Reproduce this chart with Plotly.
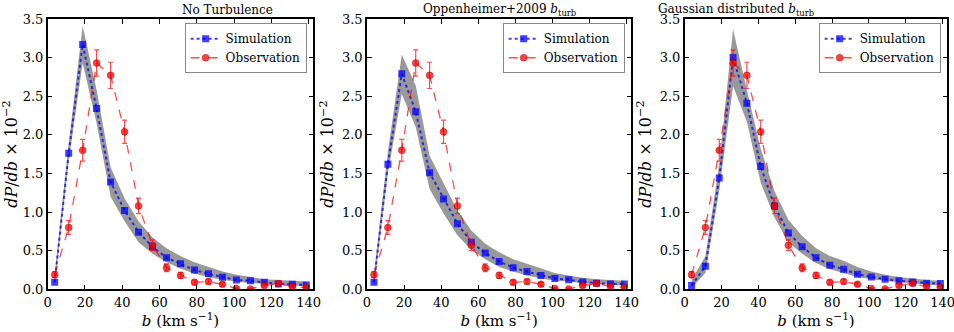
import plotly.graph_objects as go
from plotly.subplots import make_subplots

# b bin centres (km/s)
b = [3.75, 11.25, 18.75, 26.25, 33.75, 41.25, 48.75, 56.25, 63.75, 71.25,
     78.75, 86.25, 93.75, 101.25, 108.75, 116.25, 123.75, 131.25, 138.75]

# observation (same in all panels)
obs = [0.19, 0.80, 1.80, 2.93, 2.77, 2.04, 1.08, 0.57, 0.28, 0.18,
       0.09, 0.10, 0.065, 0.01, 0.005, 0.05, 0.075, 0.035, 0.025]
obs_err = [0.04, 0.09, 0.14, 0.17, 0.17, 0.15, 0.10, 0.07, 0.05, 0.04,
           0.03, 0.03, 0.025, 0.01, 0.01, 0.02, 0.025, 0.02, 0.015]

# simulation, no turbulence
sim_noturb = [0.09, 1.76, 3.17, 2.34, 1.39, 1.02, 0.74, 0.55, 0.41, 0.33,
              0.25, 0.20, 0.155, 0.12, 0.11, 0.09, 0.07, 0.065, 0.055]
lo_noturb = [0.04, 1.66, 2.93, 2.15, 1.20, 0.88, 0.61, 0.46, 0.35, 0.27,
             0.20, 0.16, 0.12, 0.10, 0.08, 0.07, 0.06, 0.05, 0.04]
hi_noturb = [0.20, 1.88, 3.41, 2.58, 1.58, 1.18, 0.88, 0.67, 0.53, 0.43,
             0.35, 0.29, 0.23, 0.19, 0.16, 0.13, 0.12, 0.11, 0.10]

# simulation, Oppenheimer+2009 b_turb
sim_opp = [0.09, 1.62, 2.79, 2.30, 1.51, 1.17, 0.85, 0.61, 0.47, 0.36,
           0.28, 0.23, 0.18, 0.14, 0.125, 0.095, 0.08, 0.07, 0.07]
lo_opp = [0.03, 1.50, 2.53, 2.10, 1.30, 0.98, 0.70, 0.51, 0.39, 0.29,
          0.23, 0.18, 0.14, 0.11, 0.10, 0.08, 0.07, 0.06, 0.05]
hi_opp = [0.20, 1.78, 3.04, 2.64, 1.73, 1.37, 1.02, 0.76, 0.59, 0.48,
          0.39, 0.33, 0.27, 0.21, 0.18, 0.15, 0.13, 0.12, 0.11]

# simulation, Gaussian distributed b_turb
sim_gauss = [0.05, 0.30, 1.44, 3.00, 2.41, 1.59, 1.08, 0.73, 0.55, 0.41,
             0.31, 0.26, 0.195, 0.16, 0.13, 0.11, 0.095, 0.08, 0.075]
lo_gauss = [0.02, 0.21, 1.28, 2.63, 2.17, 1.38, 0.93, 0.61, 0.46, 0.34,
            0.26, 0.21, 0.16, 0.13, 0.11, 0.09, 0.08, 0.06, 0.05]
hi_gauss = [0.12, 0.43, 1.62, 3.37, 2.58, 1.82, 1.27, 0.90, 0.69, 0.53,
            0.43, 0.37, 0.29, 0.23, 0.19, 0.16, 0.14, 0.12, 0.11]

titles = ["No Turbulence",
          "Oppenheimer+2009 <i>b</i><sub>turb</sub>",
          "Gaussian distributed <i>b</i><sub>turb</sub>"]
panels = [(sim_noturb, lo_noturb, hi_noturb),
          (sim_opp, lo_opp, hi_opp),
          (sim_gauss, lo_gauss, hi_gauss)]

FONT = "DejaVu Serif, serif"
fig = make_subplots(rows=1, cols=3)

x_domains = [[0.050, 0.3284], [0.3847, 0.6618], [0.7177, 0.993]]
y_domain = [0.1286, 0.9428]

for i, (sim, lo, hi) in enumerate(panels):
    col = i + 1
    leg = "legend" if i == 0 else f"legend{i + 1}"
    # grey band
    fig.add_trace(go.Scatter(x=b + b[::-1], y=hi + lo[::-1], fill="toself",
                             fillcolor="rgba(128,128,128,0.8)", line=dict(width=0),
                             showlegend=False, hoverinfo="skip"), row=1, col=col)
    fig.add_trace(go.Scatter(x=b, y=sim, mode="lines+markers", name="Simulation",
                             line=dict(color="rgba(0,0,255,0.75)", dash="dot", width=2),
                             marker=dict(symbol="square", size=7, color="rgba(0,0,255,0.75)"),
                             legend=leg), row=1, col=col)
    fig.add_trace(go.Scatter(x=b, y=obs, mode="lines+markers", name="Observation",
                             line=dict(color="rgba(255,0,0,0.7)", dash="dash", width=1.3),
                             marker=dict(symbol="circle", size=7, color="rgba(255,0,0,0.75)",
                                         line=dict(color="rgba(120,0,0,0.5)", width=0.6)),
                             error_y=dict(type="data", array=obs_err, color="rgba(255,0,0,0.7)",
                                          thickness=1.2, width=2.5),
                             legend=leg), row=1, col=col)

    xa = "xaxis" if i == 0 else f"xaxis{i + 1}"
    ya = "yaxis" if i == 0 else f"yaxis{i + 1}"
    fig.update_layout(**{
        xa: dict(domain=x_domains[i], range=[0, 142.5], tickvals=[0, 20, 40, 60, 80, 100, 120, 140],
                 ticks="inside", ticklen=5, tickwidth=1.3, tickcolor="black",
                 showline=True, linecolor="black", linewidth=1.5, mirror="ticks",
                 showgrid=False, zeroline=False, automargin=False, ticklabeloverflow="allow",
                 tickfont=dict(family=FONT, size=13, color="black"),
                 title=dict(text="<i>b</i> (km s<sup>−1</sup>)", standoff=2,
                            font=dict(family=FONT, size=15, color="black"))),
        ya: dict(domain=y_domain, range=[0, 3.5], dtick=0.5, tickformat=".1f",
                 ticks="inside", ticklen=5, tickwidth=1.3, tickcolor="black",
                 showline=True, linecolor="black", linewidth=1.5, mirror="ticks",
                 showgrid=False, zeroline=False, automargin=False, ticklabeloverflow="allow",
                 tickfont=dict(family=FONT, size=13, color="black"),
                 title=dict(text="<i>dP</i>/<i>db</i> × 10<sup>−2</sup>", standoff=4,
                            font=dict(family=FONT, size=16, color="black"))),
        leg: dict(x=x_domains[i][1] - 0.007, y=0.93, xanchor="right", yanchor="top",
                  bgcolor="white", bordercolor="#888888", borderwidth=1,
                  font=dict(family=FONT, size=12, color="black"),
                  tracegroupgap=0, itemwidth=30),
    })
    fig.add_annotation(text=titles[i], x=sum(x_domains[i]) / 2, y=0.97,
                       xref="paper", yref="paper", showarrow=False, yanchor="middle",
                       font=dict(family=FONT, size=12, color="black"))

fig.update_layout(width=954, height=332, margin=dict(l=0, r=0, t=0, b=0),
                  plot_bgcolor="white", paper_bgcolor="white")

# drop the page's default body margin so the figure sits at the window's corner
fig.write_html("out.html", config={"displayModeBar": False},
               post_script="document.body.style.margin='0';")
